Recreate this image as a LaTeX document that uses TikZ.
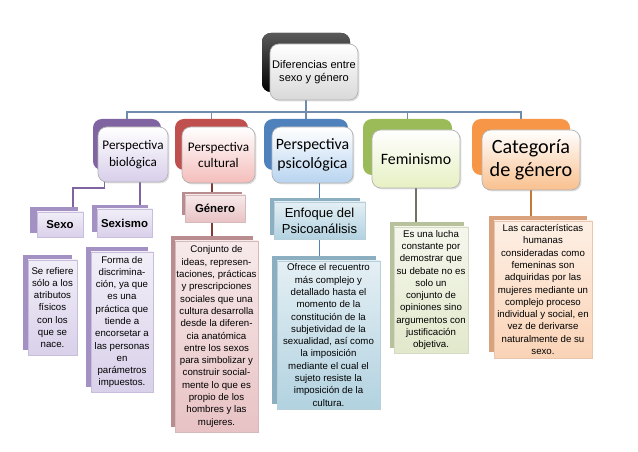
\documentclass[tikz,border=0pt]{standalone}
\usepackage{fontspec}
\setmainfont{Liberation Sans}
\newfontfamily\calibri{Carlito}
\usetikzlibrary{backgrounds,shadows}

\definecolor{lineC}{HTML}{6F8CAC}
\definecolor{bioC}{HTML}{8064A2}
\definecolor{bioL}{HTML}{D8CEEA}
\definecolor{bioD}{HTML}{A391C4}
\definecolor{bioE}{HTML}{D9D0EA}
\definecolor{culC}{HTML}{C0504D}
\definecolor{culL}{HTML}{F4BDBB}
\definecolor{culD}{HTML}{B98C90}
\definecolor{culE}{HTML}{E8C2C4}
\definecolor{psyC}{HTML}{4F81BD}
\definecolor{psyL}{HTML}{B8D4F0}
\definecolor{psyD}{HTML}{8BAFC1}
\definecolor{psyE}{HTML}{B2D2E0}
\definecolor{femC}{HTML}{9BBB59}
\definecolor{femL}{HTML}{E6F0C2}
\definecolor{femD}{HTML}{B7C29C}
\definecolor{femE}{HTML}{E2E8CB}
\definecolor{catC}{HTML}{F79646}
\definecolor{catL}{HTML}{F9C08E}
\definecolor{catD}{HTML}{D9A17C}
\definecolor{catE}{HTML}{FAD3B6}

\tikzset{
  dim/.style 2 args={minimum width=#1*0.02cm,minimum height=#2*0.02cm,inner sep=0pt,align=center},
  hback/.style={rounded corners=5pt,fill=#1},
  hfront/.style={rounded corners=5pt,draw=black!30,top color=white,bottom color=#1,
    drop shadow={opacity=0.25,shadow xshift=0.8pt,shadow yshift=-0.8pt}},
  lback/.style={fill=#1},
  lfront/.style 2 args={draw=#1,top color=#2!35!white,bottom color=#2},
  lab/.style={font=\bfseries\fontsize{6.5}{8}\selectfont},
  desc/.style={font=\fontsize{5.5}{7}\selectfont},
  link/.style={draw=#1,line width=0.6pt}
}

\begin{document}
\begin{tikzpicture}[x=0.02cm,y=-0.02cm]
  \useasboundingbox (0,0) rectangle (638,452);

  % top box
  \draw
    (306,62.5) node[hback=black,top color=black!65,bottom color=black,dim={88}{59}] (topB) {}
    (314,72) node[hfront=black!15,dim={88}{56},font=\fontsize{6.3}{7.6}\selectfont] (top) {Diferencias entre\\sexo y género};

  % first level
  \draw
    (127,144.5) node[hback=bioC,dim={68}{51}] (bioB) {}
    (133,154.5) node[hfront=bioL,dim={70}{55},font=\calibri\fontsize{7.5}{9.2}\selectfont] (bio) {Perspectiva\\biológica}
    (211.5,144.5) node[hback=culC,dim={73}{51}] (culB) {}
    (218.5,155) node[hfront=culL,dim={73}{56},font=\calibri\fontsize{7.5}{9.2}\selectfont] (cul) {Perspectiva\\cultural}
    (306,144.5) node[hback=psyC,dim={84}{51}] (psyB) {}
    (312.5,155) node[hfront=psyL,dim={81}{56},font=\calibri\fontsize{9}{11}\selectfont] (psy) {Perspectiva\\psicológica}
    (407.5,147) node[hback=femC,dim={89}{56}] (femB) {}
    (416,159) node[hfront=femL,dim={88}{58},font=\calibri\fontsize{9}{11}\selectfont] (fem) {Feminismo}
    (521,147) node[hback=catC,dim={98}{56}] (catB) {}
    (531,160) node[hfront=catL,dim={98}{60},font=\calibri\fontsize{11.5}{13}\selectfont] (cat) {Categoría\\de género};

  % second level
  \draw
    (54,220) node[lback=bioD,dim={48}{26}] (sexoB) {}
    (60,224.5) node[lfront={bioD!60!white}{bioE},dim={46}{25},lab] (sexo) {Sexo}
    (120,218.5) node[lback=bioD,dim={56}{27}] (sexismoB) {}
    (124.5,223) node[lfront={bioD!60!white}{bioE},dim={55}{28},lab] (sexismo) {Sexismo}
    (212,203.5) node[lback=culD,dim={60}{23}] (genB) {}
    (215,208.5) node[lfront={culD!60!white}{culE},dim={60}{27},lab] (gen) {Género}
    (315,216.5) node[lback=psyD,dim={90}{37}] (enfB) {}
    (319.5,220.5) node[lfront={psyD!60!white}{psyE},dim={91}{37},font=\fontsize{7.4}{9}\selectfont] (enf) {Enfoque del\\Psicoanálisis};

  % descriptions
  \draw
    (47.5,302.5) node[lback=bioD,dim={49}{95}] (sdB) {}
    (52.5,307.5) node[lfront={bioD!60!white}{bioE},dim={49}{95},desc] (sd) {Se refiere\\sólo a los\\atributos\\físicos\\con los\\que se\\nace.}
    (117,317) node[lback=bioD,dim={62}{140}] (sxdB) {}
    (122,322) node[lfront={bioD!60!white}{bioE},dim={62}{140},desc] (sxd) {Forma de\\discrimina-\\ción, ya que\\es una\\práctica que\\tiende a\\encorsetar a\\las personas\\en\\parámetros\\impuestos.}
    (212,331.5) node[lback=culD,dim={82}{191}] (gdB) {}
    (216.5,336.5) node[lfront={culD!60!white}{culE},dim={83}{191},desc] (gd) {Conjunto de\\ideas, represen-\\taciones, prácticas\\y prescripciones\\sociales que una\\cultura desarrolla\\desde la diferen-\\cia anatómica\\entre los sexos\\para simbolizar y\\construir social-\\mente lo que es\\propio de los\\hombres y las\\mujeres.}
    (324,330) node[lback=psyD,dim={104}{148}] (edB) {}
    (328.5,335) node[lfront={psyD!60!white}{psyE},dim={103}{148},desc] (ed) {Ofrece el recuentro\\más complejo y\\detallado hasta el\\momento de la\\constitución de la\\subjetividad de la\\sexualidad, así como\\la imposición\\mediante el cual el\\sujeto resiste la\\imposición de la\\cultura.}
    (427,285) node[lback=femD,dim={74}{126}] (fdB) {}
    (431,290) node[lfront={femD!60!white}{femE},dim={74}{126},desc] (fd) {Es una lucha\\constante por\\demostrar que\\su debate no es\\solo un\\conjunto de\\opiniones sino\\argumentos con\\justificación\\objetiva.}
    (538,284) node[lback=catD,dim={98}{136}] (cdB) {}
    (543,289.5) node[lfront={catD!60!white}{catE},dim={98}{137},desc] (cd) {Las características\\humanas\\consideradas como\\femeninas son\\adquiridas por las\\mujeres mediante un\\complejo proceso\\individual y social, en\\vez de derivarse\\naturalmente de su\\sexo.};

  % connectors
  \coordinate (bus) at (306,112);
  \coordinate (sexoturn) at (73,188);
  \begin{scope}[on background layer]
    \draw[link=lineC] (topB) -- (psyB);
    \draw[link=lineC] (bus) -| (bioB);
    \draw[link=lineC] (bus) -| (culB);
    \draw[link=lineC] (bus) -| (femB);
    \draw[link=lineC] (bus) -| (catB);
    \draw[link=bioC] ([xshift=0.14cm]bio.south west) |- (sexoturn) -- (sexoturn |- sexoB.north);
    \draw[link=bioC] ([xshift=0.14cm]bio.south) -- ([xshift=0.14cm]bio.south |- sexismoB.north);
    \draw[link=culC!70!black] (genB |- cul.south) -- (genB);
    \draw[link=culC!70!black] (genB) -- (gdB);
    \draw[link=psyC] (enf |- psy.south) -- (enf |- enfB.north);
    \draw[link=psyC] (enf.south) -- (enf.south |- edB.north);
    \draw[link=femD!60!black] (fem.south) -- (fem.south |- fdB.north);
    \draw[link=catC!80!black] (cat.south) -- (cat.south |- cdB.north);
  \end{scope}
\end{tikzpicture}
\end{document}
